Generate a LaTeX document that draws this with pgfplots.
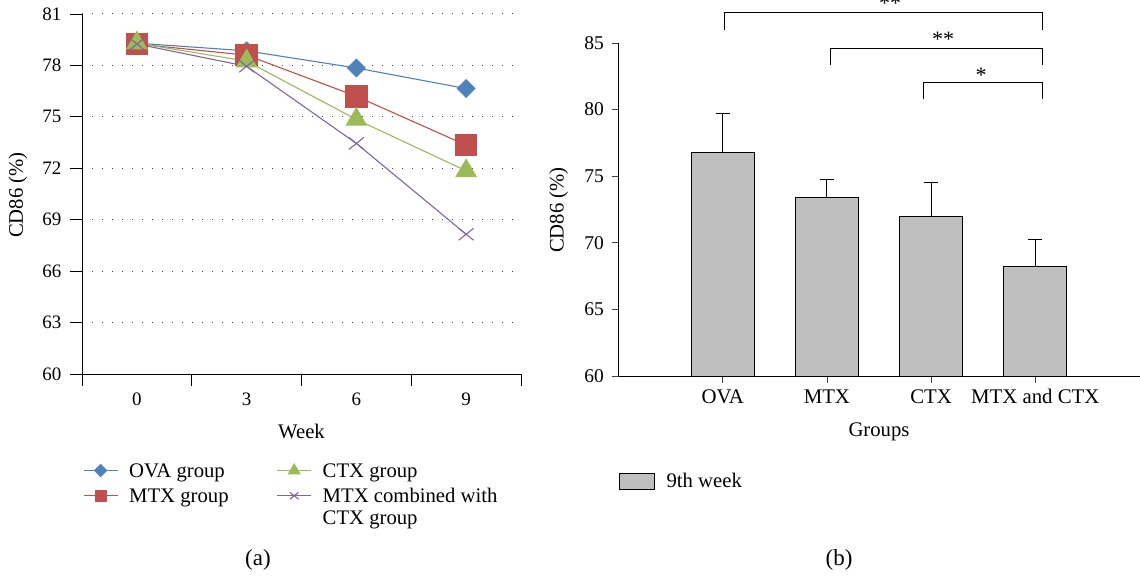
\documentclass[border=0pt]{standalone}
\usepackage{fontspec}
\setmainfont{Liberation Serif}
\usepackage{pgfplots}
\pgfplotsset{compat=1.18}
\definecolor{cA}{HTML}{4F81BD}
\definecolor{cB}{HTML}{C0504D}
\definecolor{cC}{HTML}{9BBB59}
\definecolor{cD}{HTML}{8064A2}
\definecolor{barg}{HTML}{BFBFBF}
\newcommand{\lblfont}{\fontsize{20.7}{22}\selectfont}
\begin{document}
\fontsize{19}{22}\selectfont
\begin{tikzpicture}[x=1pt,y=1pt]
\pgfplotsset{every axis/.append style={font=\fontsize{19}{22}\selectfont,
  /pgf/number format/assume math mode=true}}
% ---------------- panel (a) ----------------
\begin{axis}[
  at={(82pt,-374pt)}, anchor=south west,
  scale only axis, width=439pt, height=360pt,
  xmin=-0.5, xmax=3.5, ymin=60, ymax=81,
  axis x line*=bottom, axis y line*=left,
  axis line style={black, line width=0.8pt},
  xtick={0,1,2,3}, xticklabels={0,3,6,9},
  minor xtick={-0.5,0.5,1.5,2.5,3.5},
  ytick={60,63,...,81},
  tick align=outside, major tick length=12pt, minor tick length=12pt,
  tick style={black, line width=0.8pt},
  major x tick style={draw=none},
  yticklabel style={xshift=-2pt},
  ymajorgrids, major grid style={black!75, line width=1pt, dash pattern=on 1pt off 9pt},
  xlabel={Week}, ylabel={CD86 (\%)},
  every axis x label/.style={at={(axis description cs:0.5,-0.161)}, anchor=center, font=\lblfont},
  every axis y label/.style={at={(axis description cs:-0.146,0.497)}, anchor=center, rotate=90, font=\lblfont},
  legend columns=2, transpose legend,
  legend style={at={(axis description cs:0.002,-0.242)}, anchor=north west,
    draw=none, fill=none, inner sep=0pt, row sep=3pt, font=\lblfont,
    nodes={inner sep=2pt},
    cells={anchor=base west},
    /tikz/every odd column/.append style={column sep=9pt},
    /tikz/every even column/.append style={column sep=46pt}},
  legend image code/.code={\draw[mark repeat=2, mark phase=2, #1] plot coordinates {(0pt,6.5pt) (17pt,6.5pt) (34pt,6.5pt)};},
]
\addplot[forget plot, cA, line width=1.1pt, mark=square*, mark size=6.2pt, mark options={rotate=45, solid}]
  coordinates {(0,79.30) (1,78.85) (2,77.85) (3,76.65)};
\addplot[forget plot, cB, line width=1.1pt, mark=square*, mark size=10.8pt]
  coordinates {(0,79.25) (1,78.60) (2,76.20) (3,73.35)};
\addplot[forget plot, cC, line width=1.1pt, mark=triangle*, mark size=11.5pt]
  coordinates {(0,79.30) (1,78.25) (2,74.85) (3,71.85)};
\addplot[forget plot, cD, line width=1.1pt, mark=x, mark size=10.5pt, mark options={yscale=0.8}]
  coordinates {(0,79.25) (1,77.95) (2,73.45) (3,68.15)};
\addlegendimage{cA, line width=1.1pt, mark=square*, mark size=4.2pt, mark options={rotate=45}}
\addlegendentry{OVA group}
\addlegendimage{cB, line width=1.1pt, mark=square*, mark size=5.5pt}
\addlegendentry{MTX group}
\addlegendimage{cC, line width=1.1pt, mark=triangle*, mark size=6.5pt}
\addlegendentry{CTX group}
\addlegendimage{cD, line width=1.1pt, mark=x, mark size=6pt, mark options={yscale=0.8}}
\addlegendentry{\begin{tabular}[t]{@{}l@{}}MTX combined with\\CTX group\end{tabular}}
\end{axis}
% ---------------- panel (b) ----------------
\begin{axis}[
  at={(618.5pt,-376pt)}, anchor=south west,
  scale only axis, width=521pt, height=333pt,
  xmin=-1, xmax=4, ymin=60, ymax=85,
  axis x line*=bottom, axis y line*=left,
  axis line style={black, line width=0.9pt},
  xtick={0,1,2,3}, xticklabels={OVA,MTX,CTX,MTX and CTX},
  ytick={60,65,...,85},
  tick align=outside, major tick length=7pt,
  tick style={black!75, line width=0.8pt},
  xticklabel style={font=\fontsize{20.8}{22}\selectfont},
  yticklabel style={font=\fontsize{19.5}{22}\selectfont, xshift=-1pt},
  xlabel={Groups}, ylabel={CD86 (\%)},
  every axis x label/.style={at={(axis description cs:0.5,-0.168)}, anchor=center, font=\lblfont},
  every axis y label/.style={at={(axis description cs:-0.115,0.498)}, anchor=center, rotate=90, font=\lblfont},
  legend style={at={(axis description cs:0,-0.285)}, anchor=north west,
    draw=none, fill=none, inner sep=0pt, nodes={inner sep=2pt}, font=\lblfont,
    cells={anchor=base west},
    /tikz/every odd column/.append style={column sep=10pt}},
]
\addplot[forget plot, ybar, bar width=63pt, fill=barg, draw=black, line width=0.9pt,
  error bars/.cd, y dir=plus, y explicit, error mark=-,
  error bar style={black, line width=0.9pt},
  error mark options={black, line width=0.9pt, mark size=7pt, rotate=90}]
  coordinates {(0,76.75) +- (0,2.95) (1,73.40) +- (0,1.35) (2,72.00) +- (0,2.50) (3,68.20) +- (0,2.05)};
\addlegendimage{legend image code/.code={\draw[fill=barg, draw=black, line width=0.9pt] (0pt,-2pt) rectangle (35pt,14pt);}}
\addlegendentry{9th week}
\end{axis}
% significance brackets
\draw[black, line width=0.9pt] (724.8,-30) -- (724.8,-12.3) -- (1042.5,-12.3) -- (1042.5,-30);
\draw[black, line width=0.9pt] (830.9,-65) -- (830.9,-48.3) -- (1042.5,-48.3) -- (1042.5,-65);
\draw[black, line width=0.9pt] (923.9,-99.3) -- (923.9,-82.3) -- (1042.5,-82.3) -- (1042.5,-99.3);
\node[anchor=base, font=\fontsize{22}{24}\selectfont] at (890,-11) {**};
\node[anchor=base, font=\fontsize{22}{24}\selectfont] at (943,-47) {**};
\node[anchor=base, font=\fontsize{22}{24}\selectfont] at (981,-83) {*};
% panel captions
\node[anchor=center, font=\fontsize{23}{25}\selectfont] at (258,-560) {(a)};
\node[anchor=center, font=\fontsize{23}{25}\selectfont] at (839,-560) {(b)};
\pgfresetboundingbox
\path[use as bounding box] (0,0) rectangle (1140,-577);
\end{tikzpicture}
\end{document}
